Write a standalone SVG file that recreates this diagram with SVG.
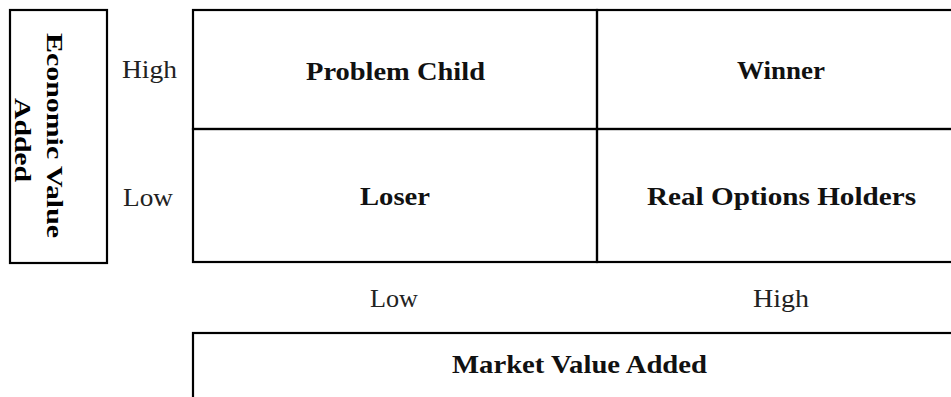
<svg xmlns="http://www.w3.org/2000/svg" width="951" height="397" viewBox="0 0 951 397">
<style>
.box{fill:#fff;stroke:#000;stroke-width:2.2}
.cell{fill:none;stroke:#000;stroke-width:2.2}
.lbl{font-family:"Liberation Serif","Times New Roman",serif;font-size:26px;font-weight:bold;fill:#111;text-anchor:middle}
.ax{font-family:"Liberation Serif","Times New Roman",serif;font-size:26px;fill:#222;text-anchor:middle}
.vax{font-family:"Liberation Serif","Times New Roman",serif;font-size:24px;font-weight:bold;fill:#000;text-anchor:middle}
</style>
<rect width="951" height="397" fill="#fff"/>
<g id="eva-axis">
<rect class="box" x="10" y="10" width="97" height="253"/>
<g transform="translate(47,135.5) rotate(90)">
<text class="vax" x="0" y="0" textLength="205" lengthAdjust="spacingAndGlyphs">Economic Value</text>
<text class="vax" x="4.5" y="32" textLength="84" lengthAdjust="spacingAndGlyphs">Added</text>
</g>
</g>
<g id="eva-levels">
<text class="ax" x="149.5" y="78" textLength="55" lengthAdjust="spacingAndGlyphs">High</text>
<text class="ax" x="148" y="206" textLength="50" lengthAdjust="spacingAndGlyphs">Low</text>
</g>
<g id="problem-child">
<rect class="cell" x="193" y="10" width="404" height="119"/>
<text class="lbl" x="395.5" y="80" textLength="179" lengthAdjust="spacingAndGlyphs">Problem Child</text>
</g>
<g id="winner">
<rect class="cell" x="597" y="10" width="370" height="119"/>
<text class="lbl" x="781" y="79" textLength="88" lengthAdjust="spacingAndGlyphs">Winner</text>
</g>
<g id="loser">
<rect class="cell" x="193" y="129" width="404" height="133"/>
<text class="lbl" x="395" y="205" textLength="70" lengthAdjust="spacingAndGlyphs">Loser</text>
</g>
<g id="real-options-holders">
<rect class="cell" x="597" y="129" width="370" height="133"/>
<text class="lbl" x="781.5" y="205" textLength="269" lengthAdjust="spacingAndGlyphs">Real Options Holders</text>
</g>
<g id="mva-levels">
<text class="ax" x="394" y="307" textLength="48" lengthAdjust="spacingAndGlyphs">Low</text>
<text class="ax" x="781" y="307" textLength="56" lengthAdjust="spacingAndGlyphs">High</text>
</g>
<g id="mva-axis">
<rect class="box" x="193" y="333" width="774" height="80"/>
<text class="lbl" x="579.5" y="373" textLength="255" lengthAdjust="spacingAndGlyphs">Market Value Added</text>
</g>
<g id="connectors"></g>
</svg>
